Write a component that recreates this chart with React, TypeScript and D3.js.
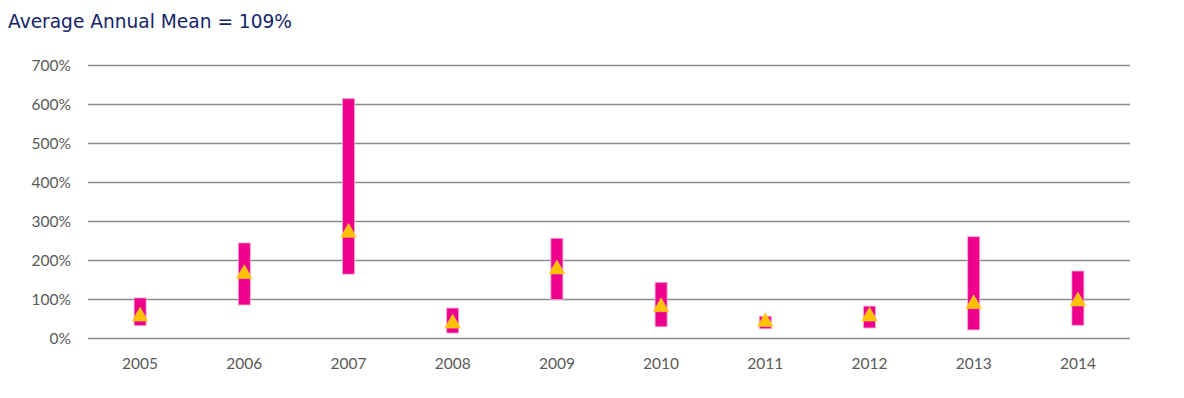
import React, { useRef, useEffect } from 'react';
import * as d3 from 'd3';

const years = ['2005', '2006', '2007', '2008', '2009', '2010', '2011', '2012', '2013', '2014'];
const lows = [33, 86, 165, 14, 100, 30, 25, 27, 22, 34];
const highs = [104, 245, 615, 78, 257, 144, 57, 83, 261, 173];
const means = [59, 168, 274, 41, 180, 83, 45, 59, 91, 98];
const yTicks = [0, 100, 200, 300, 400, 500, 600, 700];
const title = 'Average Annual Mean = 109%';

const App = () => {
  const ref = useRef<SVGSVGElement | null>(null);

  useEffect(() => {
    if (!ref.current) return;
    const svg = d3.select(ref.current);
    svg.selectAll('*').remove();

    const left = 88;
    const right = 1130;
    const top = 65.5;
    const bottom = 338.5;

    const x = d3.scaleBand().domain(years).range([left, right]);
    const y = d3.scaleLinear().domain([0, 700]).range([bottom, top]);

    svg.append('text')
      .attr('x', 8)
      .attr('y', 28)
      .attr('font-family', 'DejaVu Sans, sans-serif')
      .attr('font-size', 18.6)
      .attr('fill', '#14256a')
      .text(title);

    // gridlines
    svg.append('g')
      .selectAll('line')
      .data(yTicks)
      .join('line')
      .attr('x1', left)
      .attr('x2', right)
      .attr('y1', d => y(d))
      .attr('y2', d => y(d))
      .attr('stroke', '#8c8c8c')
      .attr('stroke-width', 1.6);

    // y labels
    svg.append('g')
      .selectAll('text')
      .data(yTicks)
      .join('text')
      .attr('x', 71)
      .attr('y', d => y(d))
      .attr('dy', '0.36em')
      .attr('text-anchor', 'end')
      .attr('font-family', 'Lato, sans-serif')
      .attr('font-size', 15.5)
      .attr('fill', '#595959')
      .text(d => `${d}%`);

    // x labels
    svg.append('g')
      .selectAll('text')
      .data(years)
      .join('text')
      .attr('x', d => (x(d) ?? 0) + x.bandwidth() / 2)
      .attr('y', 368.5)
      .attr('text-anchor', 'middle')
      .attr('font-family', 'Lato, sans-serif')
      .attr('font-size', 15.5)
      .attr('fill', '#595959')
      .text(d => d);

    const barW = 12;
    // range bars
    svg.append('g')
      .selectAll('rect')
      .data(years)
      .join('rect')
      .attr('x', d => (x(d) ?? 0) + x.bandwidth() / 2 - barW / 2)
      .attr('width', barW)
      .attr('y', (d, i) => y(highs[i]))
      .attr('height', (d, i) => y(lows[i]) - y(highs[i]))
      .attr('fill', '#ec008c')
      .attr('stroke', '#f7a8d3')
      .attr('stroke-width', 0.8);

    // mean markers
    const tri = d3.symbol().type(d3.symbolTriangle).size(110);
    svg.append('g')
      .selectAll('path')
      .data(years)
      .join('path')
      .attr('d', tri)
      .attr('transform', (d, i) => `translate(${(x(d) ?? 0) + x.bandwidth() / 2},${y(means[i]) + 1})`)
      .attr('fill', '#ffc000')
      .attr('stroke', '#ffd24d')
      .attr('stroke-width', 0.6);
  }, []);

  return <svg ref={ref} width={1184} height={398} style={{ display: 'block', margin: '-8px 0 0 -8px' }} />;
};

export default App;
